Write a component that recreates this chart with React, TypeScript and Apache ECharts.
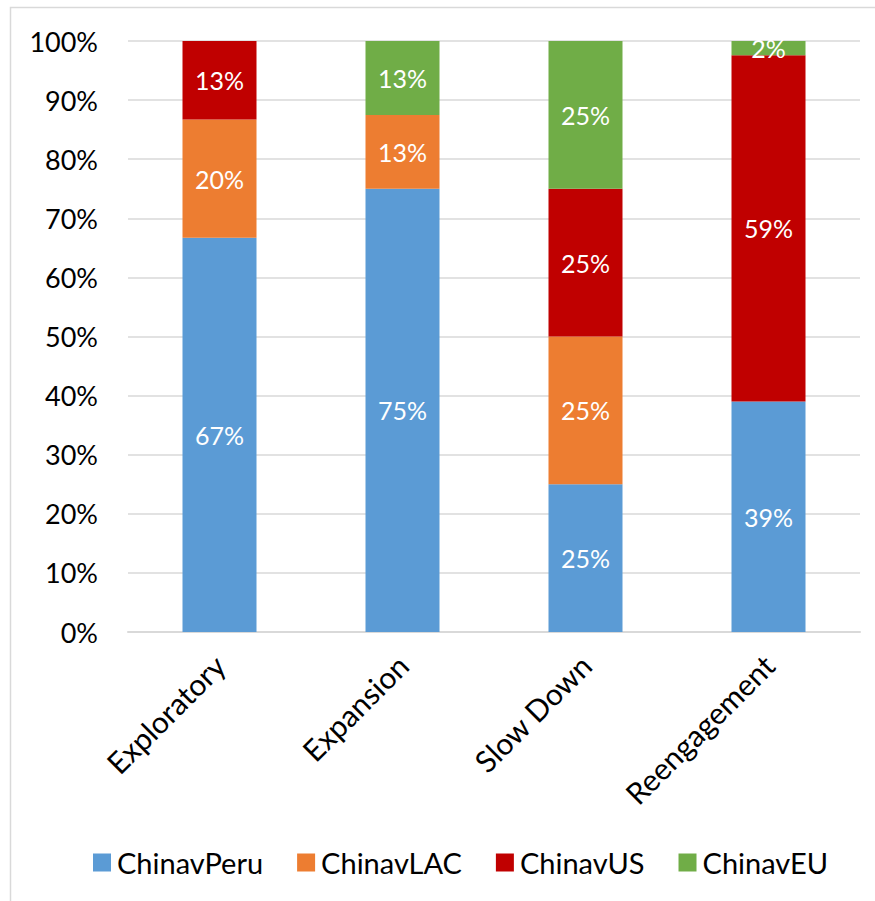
import React, { useEffect, useRef } from "react";
import * as echarts from "echarts";

const categories = ["Exploratory", "Expansion", "Slow Down", "Reengagement"];
const seriesNames = ["ChinavPeru", "ChinavLAC", "ChinavUS", "ChinavEU"];
const chinaVPeru = [66.7, 75, 25, 39.0];
const chinaVLAC = [20, 12.5, 25, null];
const chinaVUS = [13.3, null, 25, 58.6];
const chinaVEU = [null, 12.5, 25, 2.4];
const yTicks = [0, 10, 20, 30, 40, 50, 60, 70, 80, 90, 100];
const colors = ["#5B9BD5", "#ED7D31", "#C00000", "#70AD47"];

const FONT = "Lato, 'Open Sans', sans-serif";

export default function App() {
  const ref = useRef<HTMLDivElement>(null);
  useEffect(() => {
    if (!ref.current) return;
    const chart = echarts.init(ref.current, undefined, { renderer: "svg" });
    const data = [chinaVPeru, chinaVLAC, chinaVUS, chinaVEU];
    chart.setOption({
      animation: false,
      backgroundColor: "#ffffff",
      textStyle: { fontFamily: FONT },
      graphic: [
        {
          type: "rect",
          shape: { x: 10.5, y: 7.5, width: 880, height: 900 },
          style: { fill: "none", stroke: "#d9d9d9", lineWidth: 1.5 },
          silent: true,
          z: -1,
        },
      ],
      grid: { left: 128, right: 15, top: 41, bottom: 269, containLabel: false },
      legend: {
        data: seriesNames,
        left: 88,
        top: 843,
        icon: "rect",
        itemWidth: 18,
        itemHeight: 18,
        itemGap: 34,
        textStyle: { fontSize: 29, color: "#000", fontFamily: FONT, padding: [0, 0, 0, 1] },
      },
      xAxis: {
        type: "category",
        data: categories,
        axisLine: { show: true, lineStyle: { color: "#d9d9d9", width: 2 } },
        axisTick: { show: false },
        axisLabel: {
          rotate: 45,
          fontSize: 30,
          color: "#000",
          fontFamily: FONT,
          margin: 28,
          interval: 0,
        },
      },
      yAxis: {
        type: "value",
        min: 0,
        max: 100,
        interval: 10,
        axisLine: { show: false },
        axisTick: { show: false },
        splitLine: { lineStyle: { color: "#d9d9d9", width: 1.5 } },
        axisLabel: {
          fontSize: 27,
          color: "#000",
          fontFamily: FONT,
          margin: 30,
          formatter: (v: number) => (yTicks.includes(v) ? v + "%" : ""),
        },
      },
      series: seriesNames.map((name, i) => ({
        name,
        type: "bar",
        stack: "total",
        barWidth: 74,
        itemStyle: { color: colors[i] },
        label: {
          show: true,
          position: "inside",
          color: "#fff",
          fontSize: 25,
          fontFamily: FONT,
          formatter: (p: any) => (p.value == null ? "" : Math.round(p.value) + "%"),
        },
        data: data[i],
      })),
    });
    return () => chart.dispose();
  }, []);
  return (
    <div
      ref={ref}
      style={{ position: "fixed", left: 0, top: 0, width: 875, height: 901 }}
    />
  );
}
